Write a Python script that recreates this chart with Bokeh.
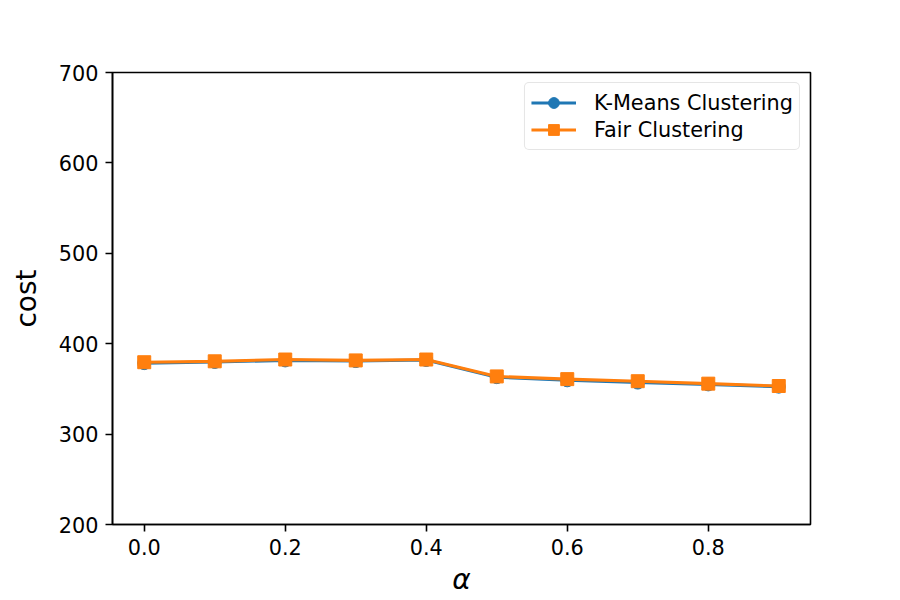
from bokeh.plotting import figure
from bokeh.models import Range1d, FixedTicker, Legend, LegendItem
from bokeh.embed import file_html
from bokeh.resources import INLINE

# cost of clustering for each fairness parameter alpha
alpha = [0.0, 0.1, 0.2, 0.3, 0.4, 0.5, 0.6, 0.7, 0.8, 0.9]
kmeans_cost = [378.5, 379.8, 381.5, 380.8, 382.0, 363.0, 359.5, 357.0, 355.0, 352.5]
fair_cost = [379.5, 380.5, 382.5, 381.5, 382.5, 363.8, 360.8, 358.5, 355.8, 353.2]

x_ticks = [0.0, 0.2, 0.4, 0.6, 0.8]
y_ticks = [200, 300, 400, 500, 600, 700]

BLUE = "#1f77b4"
ORANGE = "#ff7f0e"
FONT = "DejaVu Sans"

p = figure(width=900, height=600, output_backend="svg", toolbar_location=None,
           x_range=Range1d(-0.045, 0.945), y_range=Range1d(200, 700))
p.min_border_left = 112
p.min_border_right = 90
p.min_border_top = 72
p.min_border_bottom = 76
p.background_fill_color = "white"
p.border_fill_color = "white"
p.outline_line_color = "black"
p.outline_line_width = 1.6
p.xgrid.visible = False
p.ygrid.visible = False

for ax in (p.xaxis[0], p.yaxis[0]):
    ax.axis_line_color = "black"
    ax.axis_line_width = 1.6
    ax.major_tick_line_color = "black"
    ax.major_tick_line_width = 1.6
    ax.major_tick_out = 7
    ax.major_tick_in = 0
    ax.minor_tick_line_color = None
    ax.major_label_text_font = FONT
    ax.major_label_text_font_size = "20.8px"
    ax.major_label_text_color = "black"
    ax.major_label_standoff = 7
    ax.axis_label_text_font = FONT
    ax.axis_label_text_font_style = "normal"
    ax.axis_label_text_font_size = "28px"
    ax.axis_label_text_color = "black"

p.xaxis.ticker = FixedTicker(ticks=x_ticks)
p.yaxis.ticker = FixedTicker(ticks=y_ticks)
p.xaxis.major_label_overrides = {t: f"{t:.1f}" for t in x_ticks}
p.xaxis.axis_label = "α"
p.xaxis.axis_label_text_font_style = "italic"
p.xaxis.axis_label_standoff = 5
p.yaxis.axis_label = "cost"
p.yaxis.axis_label_standoff = 13

k_line = p.line(alpha, kmeans_cost, line_color=BLUE, line_width=3.1)
k_pts = p.scatter(alpha, kmeans_cost, marker="circle", size=13,
                  fill_color=BLUE, line_color=BLUE)
f_line = p.line(alpha, fair_cost, line_color=ORANGE, line_width=3.1)
f_pts = p.scatter(alpha, fair_cost, marker="square", size=13,
                  fill_color=ORANGE, line_color=ORANGE)

legend = Legend(items=[
    LegendItem(label="K-Means Clustering", renderers=[k_line, k_pts]),
    LegendItem(label="Fair Clustering", renderers=[f_line, f_pts]),
], location="top_right")
legend.label_text_font = FONT
legend.label_text_font_size = "20.8px"
legend.label_text_color = "black"
legend.border_line_color = "#cccccc"
legend.border_line_width = 1.2
legend.background_fill_alpha = 0.8
legend.glyph_width = 45
legend.glyph_height = 27
legend.label_height = 27
legend.spacing = 0
legend.padding = 6
legend.label_standoff = 18
legend.margin = 10
if "border_radius" in Legend.properties():
    legend.border_radius = 5
p.add_layout(legend)

open("out.html", "w").write(file_html(p, INLINE))
